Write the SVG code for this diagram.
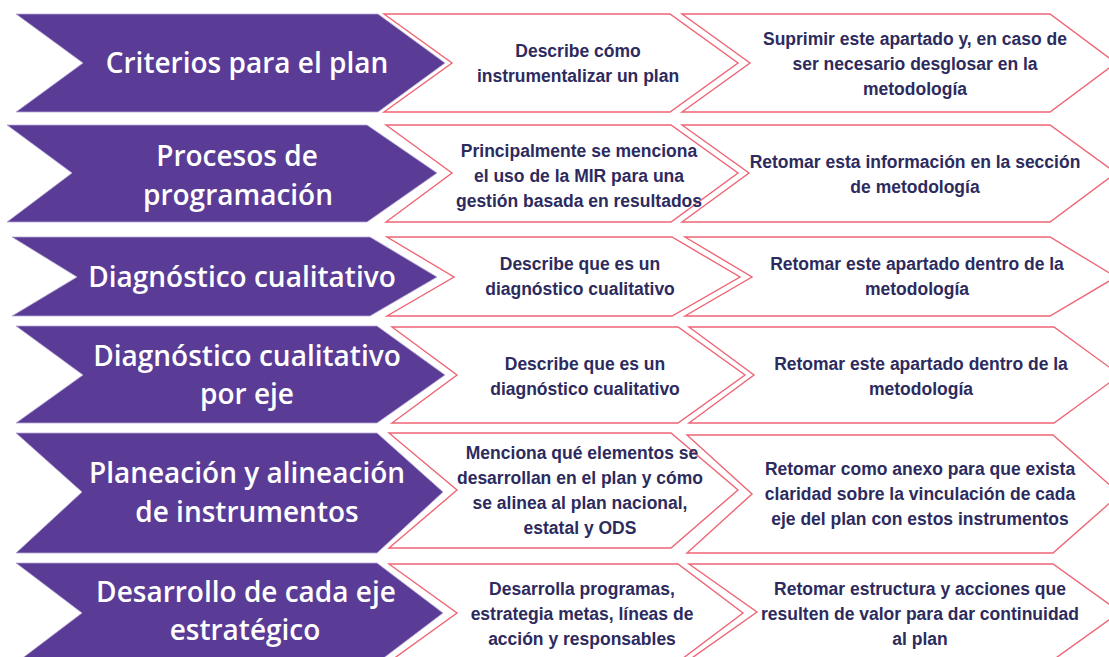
<svg xmlns="http://www.w3.org/2000/svg" width="1109" height="657" viewBox="0 0 1109 657">
<style>
.p{fill:#5a3c96;stroke:#b7a8d6;stroke-width:0.8}
.k{fill:#ffffff;stroke:#ee6575;stroke-width:1.4;stroke-linejoin:miter}
.pt{font-family:"Open Sans","Liberation Sans",sans-serif;font-weight:600;font-size:28px;fill:#ffffff;text-anchor:middle}
.kt{font-family:"Liberation Sans",Arial,sans-serif;font-weight:700;font-size:17.5px;fill:#2d2b5e;text-anchor:middle}
</style>
<rect width="1109" height="657" fill="#ffffff"/>
<g id="connectors"></g>

<g id="row1-title">
<polygon class="p" points="16,14 378,14 445,63 378,112 16,112 83,63"/>
<text class="pt" x="247" y="73">Criterios para el plan</text>
</g>
<g id="row1-desc">
<polygon class="k" points="384,14 670,14 738,63 670,112 384,112 452,63"/>
<text class="kt" x="578" y="57">Describe cómo</text>
<text class="kt" x="578" y="82">instrumentalizar un plan</text>
</g>
<g id="row1-action">
<polygon class="k" points="682,14 1050,14 1116,63 1050,112 682,112 750,63"/>
<text class="kt" x="915" y="45">Suprimir este apartado y, en caso de</text>
<text class="kt" x="915" y="70">ser necesario desglosar en la</text>
<text class="kt" x="915" y="95">metodología</text>
</g>

<g id="row2-title">
<polygon class="p" points="7,125 367,125 437,173 367,222 7,222 72,173"/>
<text class="pt" x="237" y="166">Procesos de</text>
<text class="pt" x="238" y="205">programación</text>
</g>
<g id="row2-desc">
<polygon class="k" points="386,125 671,125 738,173 671,222 386,222 452,173"/>
<text class="kt" x="579" y="157">Principalmente se menciona</text>
<text class="kt" x="579" y="182">el uso de la MIR para una</text>
<text class="kt" x="579" y="207">gestión basada en resultados</text>
</g>
<g id="row2-action">
<polygon class="k" points="682,125 1050,125 1116,173 1050,222 682,222 749,173"/>
<text class="kt" x="915" y="168">Retomar esta información en la sección</text>
<text class="kt" x="915" y="193">de metodología</text>
</g>

<g id="row3-title">
<polygon class="p" points="12,237 370,237 437,277 370,316 12,316 77,277"/>
<text class="pt" x="242" y="287">Diagnóstico cualitativo</text>
</g>
<g id="row3-desc">
<polygon class="k" points="387,237 672,237 740,277 672,316 387,316 454,277"/>
<text class="kt" x="580" y="270">Describe que es un</text>
<text class="kt" x="580" y="295">diagnóstico cualitativo</text>
</g>
<g id="row3-action">
<polygon class="k" points="685,237 1050,237 1116,277 1050,316 685,316 752,277"/>
<text class="kt" x="917" y="270">Retomar este apartado dentro de la</text>
<text class="kt" x="917" y="295">metodología</text>
</g>

<g id="row4-title">
<polygon class="p" points="16,326 377,326 445,375 377,423 16,423 83,375"/>
<text class="pt" x="247" y="366">Diagnóstico cualitativo</text>
<text class="pt" x="247" y="404">por eje</text>
</g>
<g id="row4-desc">
<polygon class="k" points="392,327 678,327 745,375 678,423 392,423 457,375"/>
<text class="kt" x="585" y="370">Describe que es un</text>
<text class="kt" x="585" y="395">diagnóstico cualitativo</text>
</g>
<g id="row4-action">
<polygon class="k" points="689,327 1054,327 1120,375 1054,423 689,423 754,375"/>
<text class="kt" x="921" y="370">Retomar este apartado dentro de la</text>
<text class="kt" x="921" y="395">metodología</text>
</g>

<g id="row5-title">
<polygon class="p" points="16,433 377,433 443,492 377,553 16,553 82,492"/>
<text class="pt" x="247" y="483">Planeación y alineación</text>
<text class="pt" x="247" y="522">de instrumentos</text>
</g>
<g id="row5-desc">
<polygon class="k" points="389,433 671,433 738,490 671,548 389,548 457,490"/>
<text class="kt" x="582" y="459">Menciona qué elementos se</text>
<text class="kt" x="580" y="484">desarrollan en el plan y cómo</text>
<text class="kt" x="580" y="509">se alinea al plan nacional,</text>
<text class="kt" x="580" y="534">estatal y ODS</text>
</g>
<g id="row5-action">
<polygon class="k" points="687,435 1053,435 1120,494 1053,553 687,553 752,494"/>
<text class="kt" x="920" y="475">Retomar como anexo para que exista</text>
<text class="kt" x="920" y="500">claridad sobre la vinculación de cada</text>
<text class="kt" x="920" y="525">eje del plan con estos instrumentos</text>
</g>

<g id="row6-title">
<polygon class="p" points="16,563 377,563 443,613 377,663 16,663 82,613"/>
<text class="pt" x="246" y="602">Desarrollo de cada eje</text>
<text class="pt" x="245" y="640">estratégico</text>
</g>
<g id="row6-desc">
<polygon class="k" points="389,564 678,564 743,613 678,662 389,662 457,613"/>
<text class="kt" x="582" y="595">Desarrolla programas,</text>
<text class="kt" x="582" y="620">estrategia metas, líneas de</text>
<text class="kt" x="582" y="645">acción y responsables</text>
</g>
<g id="row6-action">
<polygon class="k" points="689,564 1053,564 1120,612 1053,660 689,660 757,612"/>
<text class="kt" x="920" y="595">Retomar estructura y acciones que</text>
<text class="kt" x="920" y="620">resulten de valor para dar continuidad</text>
<text class="kt" x="920" y="645">al plan</text>
</g>
</svg>
